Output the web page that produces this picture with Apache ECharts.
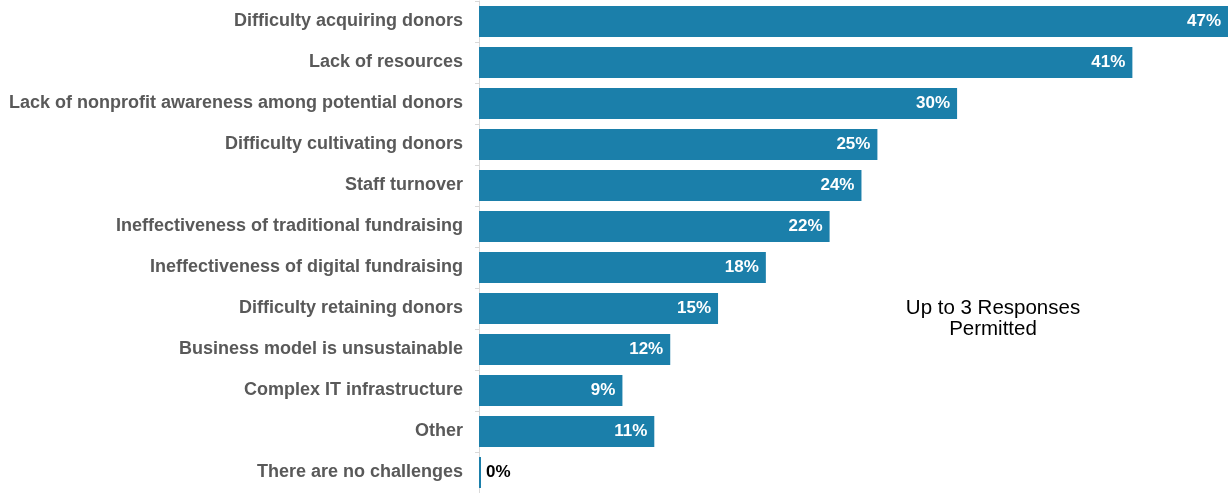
<!DOCTYPE html>
<html>
<head>
<meta charset="utf-8">
<script src="https://cdn.jsdelivr.net/npm/echarts@6/dist/echarts.min.js"></script>
<style>
  html, body { margin: 0; padding: 0; background: #ffffff; }
  #chart { width: 1230px; height: 493px; }
</style>
</head>
<body>
<div id="chart"></div>
<script>
// Fundraising challenges, share of respondents (%)
const categories = [
  'Difficulty acquiring donors',
  'Lack of resources',
  'Lack of nonprofit awareness among potential donors',
  'Difficulty cultivating donors',
  'Staff turnover',
  'Ineffectiveness of traditional fundraising',
  'Ineffectiveness of digital fundraising',
  'Difficulty retaining donors',
  'Business model is unsustainable',
  'Complex IT infrastructure',
  'Other',
  'There are no challenges'
];
const values = [47, 41, 30, 25, 24, 22, 18, 15, 12, 9, 11, 0];
const noteLines = ['Up to 3 Responses', 'Permitted'];

const barColor = '#1b7faa';
const font = 'Liberation Sans, Arial, sans-serif';

const seriesData = values.map(v => ({
  value: v,
  label: v === 0
    ? { position: 'right', color: '#000000', distance: 5 }
    : { position: 'insideRight', color: '#ffffff', distance: 7 }
}));

const chart = echarts.init(document.getElementById('chart'), null, { renderer: 'canvas' });
chart.setOption({
  animation: false,
  grid: { left: 479, right: 2, top: 1, bottom: -3, containLabel: false },
  xAxis: {
    type: 'value', min: 0, max: 47,
    show: false
  },
  yAxis: {
    type: 'category',
    data: categories,
    inverse: true,
    axisLine: { show: true, lineStyle: { color: '#d9d9d9', width: 1 } },
    axisTick: { show: true, length: 4, lineStyle: { color: '#d9d9d9' } },
    axisLabel: {
      margin: 16,
      color: '#595959',
      fontFamily: font,
      fontWeight: 'bold',
      fontSize: 18
    }
  },
  series: [{
    type: 'bar',
    data: seriesData,
    barCategoryGap: '24%',
    barMinHeight: 2,
    itemStyle: { color: barColor },
    label: {
      show: true,
      fontFamily: font,
      fontWeight: 'bold',
      fontSize: 17,
      formatter: p => p.value + '%'
    }
  }],
  graphic: noteLines.map((line, i) => ({
    type: 'text',
    x: 993,
    y: 308 + i * 21,
    style: {
      text: line,
      textAlign: 'center',
      textVerticalAlign: 'middle',
      fill: '#000000',
      font: '20.5px ' + font
    }
  }))
});
</script>
</body>
</html>
